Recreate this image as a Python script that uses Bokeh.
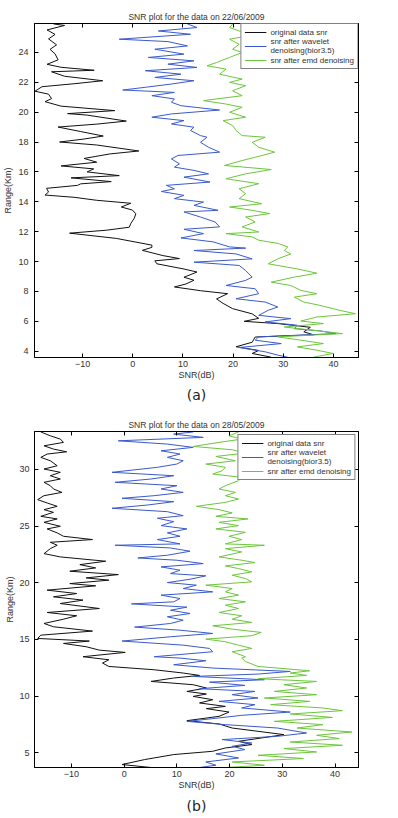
from bokeh.plotting import figure
from bokeh.models import Range1d, LinearAxis, FixedTicker, Legend, LegendItem, Title
from bokeh.layouts import column
from bokeh.embed import file_html
from bokeh.resources import INLINE

# ---------------- data: panel (a) 22/06/2009 ----------------
A_TITLE = "SNR plot for the data on 22/06/2009"
A_XTICKS = [-10, 0, 10, 20, 30, 40]
A_YTICKS = [4, 6, 8, 10, 12, 14, 16, 18, 20, 22, 24]

A_ORIG_R = [25.9, 25.8, 25.5, 25.2, 24.9, 24.5, 24.2, 23.9, 23.5, 23.2, 23.0, 22.8, 22.7,
            22.4, 22.1, 21.9, 21.7, 21.4, 21.2, 20.9, 20.7, 20.4, 20.1, 19.9, 19.8, 19.4,
            19.2, 19.0, 18.7, 18.4, 18.2, 18.0, 17.8, 17.4, 17.2, 16.9, 16.65, 16.4, 16.2,
            16.0, 15.75, 15.6, 15.35, 15.2, 15.1, 14.9, 14.65, 14.45, 14.3, 14.1, 13.9,
            13.65, 13.45, 13.2, 12.9, 12.55, 12.3, 12.1, 11.9, 11.55, 11.1, 10.95, 10.75,
            10.4, 10.2, 10.05, 9.85, 9.5, 9.3, 8.95, 8.75, 8.5, 8.3, 8.05, 7.85, 7.5, 7.2,
            6.85, 6.5, 6.2, 6.0, 5.85, 5.6, 5.3, 5.1, 4.95, 4.6, 4.3, 4.05, 3.85, 3.6]
A_ORIG_SNR = [-15.8, -13.6, -17.1, -15.5, -16.8, -15.2, -16.5, -15.5, -14.9, -17.1, -14.3,
              -7.7, -16.2, -13.6, -6.0, -11.7, -18.1, -19.5, -16.8, -16.2, -17.5, -14.3,
              -3.6, -13.0, -9.1, -1.3, -7.1, -14.9, -10.4, -5.9, -9.7, -14.6, -7.2, 1.2,
              -4.6, -9.7, -7.2, -14.3, -7.8, -9.1, -2.7, -12.3, -4.3, -10.4, -11.0, -17.2,
              -16.8, -17.5, -11.7, -7.2, -0.4, -2.3, -0.1, 0.6, 0.3, -0.4, -0.7, -5.2,
              -12.6, -3.3, 3.8, 3.8, 1.9, 6.0, 9.3, 4.4, 4.8, 10.2, 12.8, 10.2, 12.2, 10.6,
              8.3, 13.5, 18.9, 16.7, 18.0, 19.9, 23.8, 25.1, 22.2, 28.9, 35.4, 34.1, 36.0,
              24.4, 23.8, 20.6, 25.1, 23.8, 27.6]

A_WAV_R = [25.9, 25.66, 25.43, 25.21, 24.88, 24.72, 24.43, 24.21, 23.88, 23.66, 23.43,
           23.21, 22.99, 22.77, 22.54, 22.32, 22.1, 21.88, 21.66, 21.48, 21.32, 21.1,
           20.88, 20.66, 20.43, 20.14, 19.88, 19.66, 19.43, 19.21, 18.99, 18.77, 18.43,
           18.32, 17.98, 17.65, 17.32, 17.1, 16.87, 16.54, 16.32, 16.1, 15.87, 15.65,
           15.32, 15.1, 14.87, 14.69, 14.43, 14.21, 13.98, 13.76, 13.43, 13.32, 12.98,
           12.65, 12.32, 12.16, 11.87, 11.58, 11.32, 10.98, 10.9, 10.74, 10.51, 10.18,
           9.96, 9.74, 9.4, 8.96, 8.74, 8.4, 8.18, 7.85, 7.51, 7.29, 6.96, 6.74, 6.4,
           6.18, 5.96, 5.74, 5.51, 5.36, 5.18, 4.96, 4.74, 4.51, 4.25, 3.96, 3.74, 3.6]
A_WAV_SNR = [10.9, 12.8, 5.1, 11.5, -2.7, 7.0, 10.9, 4.4, 10.2, 3.1, 12.2, 7.0, 12.8, 2.5,
             9.6, 4.4, 12.2, 7.7, 2.5, -2.0, 8.3, 3.8, 8.3, 7.7, 9.6, 17.3, 7.7, 3.8, 10.2,
             7.7, 12.2, 11.5, 13.5, 14.8, 13.5, 15.1, 17.3, 9.0, 7.7, 9.3, 8.3, 12.2, 15.1,
             10.2, 15.4, 6.7, 8.3, 5.7, 10.2, 8.3, 14.1, 12.2, 17.0, 10.2, 13.5, 16.4,
             17.3, 10.2, 14.1, 9.6, 16.0, 19.3, 22.5, 12.2, 20.6, 23.8, 12.2, 21.2, 22.5,
             23.8, 22.5, 18.6, 24.4, 25.1, 20.6, 26.4, 28.9, 27.0, 25.1, 31.5, 26.4, 32.8,
             32.2, 37.3, 40.5, 25.1, 24.4, 29.6, 21.2, 26.4, 28.9, 30.9]

A_EMD_R = [25.9, 25.66, 25.43, 25.1, 24.88, 24.54, 24.21, 23.99, 23.66, 23.32, 23.1,
           22.88, 22.54, 22.21, 21.99, 21.77, 21.43, 21.1, 20.77, 20.54, 20.32, 19.99,
           19.66, 19.43, 19.1, 18.77, 18.43, 18.32, 17.98, 17.65, 17.32, 16.98, 16.76,
           16.43, 16.16, 15.87, 15.54, 15.21, 14.87, 14.54, 14.21, 13.87, 13.65, 13.43,
           13.21, 12.98, 12.65, 12.32, 11.98, 11.87, 11.65, 11.43, 11.21, 10.98, 10.74,
           10.51, 10.18, 9.85, 9.51, 9.22, 8.96, 8.62, 8.4, 8.07, 7.85, 7.62, 7.29, 7.07,
           6.74, 6.51, 6.29, 6.02, 5.85, 5.62, 5.45, 5.18, 4.96, 4.74, 4.51, 4.29, 4.07,
           3.85, 3.6]
A_EMD_SNR = [19.9, 19.3, 21.2, 23.0, 19.3, 21.2, 19.9, 21.8, 19.3, 16.7, 14.8, 18.6, 17.3,
             21.8, 19.3, 22.5, 19.9, 21.8, 14.1, 18.6, 21.8, 19.3, 22.5, 18.0, 19.9, 20.6,
             21.8, 26.4, 23.8, 25.1, 28.3, 24.4, 21.8, 18.3, 27.6, 22.5, 18.6, 25.1, 21.2,
             22.5, 21.2, 25.7, 19.3, 23.8, 27.3, 22.5, 24.4, 21.8, 25.1, 18.6, 23.8, 25.1,
             29.0, 30.9, 30.2, 31.5, 28.9, 27.0, 32.8, 36.7, 32.2, 27.6, 31.5, 33.5, 36.7,
             32.2, 34.1, 37.3, 41.2, 44.4, 36.7, 33.5, 38.0, 30.2, 34.7, 41.8, 28.9, 33.5,
             38.0, 32.8, 36.7, 39.9, 36.0]

# ---------------- data: panel (b) 28/05/2009 ----------------
B_TITLE = "SNR plot for the data on 28/05/2009"
B_XTICKS = [-10, 0, 10, 20, 30, 40]
B_YTICKS = [5, 10, 15, 20, 25, 30]

B_ORIG_R = [33.3, 32.96, 32.67, 32.38, 32.08, 31.79, 31.55, 31.35, 31.06, 30.76, 30.32,
            30.03, 29.74, 29.44, 29.15, 28.86, 28.56, 28.27, 27.97, 27.68, 27.33, 27.04,
            26.74, 26.45, 26.21, 25.86, 25.63, 25.33, 24.98, 24.75, 24.4, 24.1, 23.81,
            23.57, 23.31, 23.01, 22.57, 22.28, 21.9, 21.6, 21.31, 21.02, 20.72, 20.43,
            20.23, 19.93, 19.73, 19.35, 19.05, 18.76, 18.47, 18.17, 17.73, 17.38, 17.09,
            16.79, 16.41, 16.12, 15.74, 15.38, 15.09, 14.86, 14.65, 14.36, 14.06, 13.86,
            13.48, 13.21, 12.92, 12.62, 12.33, 12.04, 11.83, 11.6, 11.3, 11.01, 10.72,
            10.42, 10.19, 9.98, 9.69, 9.4, 9.1, 8.9, 8.6, 8.22, 7.84, 7.55, 7.19, 6.9,
            6.61, 6.31, 6.02, 5.73, 5.43, 5.14, 4.85, 4.41, 3.97, 3.71]
B_ORIG_SNR = [-15.8, -14, -12.1, -11.5, -15.2, -13.4, -10.9, -14.6, -15.8, -14, -12.7,
              -15.2, -12.1, -14, -12.1, -15.2, -14, -13.4, -11.8, -15.2, -16.4, -14.6,
              -12.7, -15.2, -13.4, -15.8, -12.7, -15.2, -12.1, -14.6, -12.7, -11.5, -6.0,
              -14, -12.7, -14, -15.2, -12.1, -3.5, -8.4, -5.4, -10.3, -1.1, -7.2, -2.9,
              -10.3, -5.4, -14.6, -9.0, -13.4, -7.8, -12.1, -4.7, -14.6, -9.0, -11.5,
              -15.2, -13.4, -6.0, -15.8, -16.4, -6.6, -11.5, -7.2, -4.7, 0.2, -7.8, -2.9,
              -4.1, -2.9, 5.7, 11.2, 14.3, 9.4, 5.1, 13.1, 15.6, 11.9, 15.6, 13.1, 16.8,
              14.3, 19.2, 15.6, 19.9, 18.0, 11.9, 18.0, 20.5, 25.4, 30.3, 26.0, 21.7, 24.2,
              19.2, 16.8, 9.4, 3.9, -0.4, 5.1]

B_WAV_R = [33.3, 33.11, 32.82, 32.52, 32.23, 31.94, 31.64, 31.35, 31.06, 30.76, 30.47,
           30.18, 29.74, 29.44, 29.15, 28.86, 28.56, 28.27, 27.97, 27.68, 27.45, 27.15,
           26.86, 26.57, 26.27, 25.92, 25.69, 25.39, 25.04, 24.75, 24.4, 24.1, 23.81,
           23.43, 23.31, 23.07, 22.78, 22.43, 22.19, 21.99, 21.69, 21.4, 21.11, 20.81,
           20.61, 20.31, 20.02, 19.79, 19.49, 19.2, 18.91, 18.61, 18.32, 18.14, 17.85,
           17.58, 17.29, 17.0, 16.7, 16.41, 16.09, 15.82, 15.53, 15.24, 14.86, 14.5,
           14.21, 13.92, 13.48, 13.36, 13.12, 12.77, 12.48, 12.18, 11.95, 11.74, 11.45,
           11.24, 10.95, 10.66, 10.42, 10.13, 9.84, 9.54, 9.25, 8.96, 8.6, 8.31, 8.02,
           7.78, 7.49, 7.19, 6.75, 6.46, 6.17, 5.87, 5.58, 5.29, 4.91, 4.55, 4.2, 3.91,
           3.71]
B_WAV_SNR = [13.1, 9.4, 15.0, -1.1, 8.2, 13.1, 7.0, 10.6, 8.2, 11.2, 10.0, 6.3, -2.3, 9.4,
             5.1, -1.7, 10.0, 7.0, 11.2, 5.7, -0.4, 9.4, 4.5, -2.3, 8.2, 11.2, 6.3, 9.4,
             7.0, 11.9, 8.2, 10.6, 6.3, 10.6, -1.7, 8.8, 12.5, 8.2, 2.6, 10.0, 15.0, 7.0,
             10.6, 8.8, 15.5, 12.5, 8.2, 13.7, 11.2, 16.8, 7.0, 10.6, 9.4, 1.4, 11.9, 8.8,
             12.5, 8.2, 11.2, 8.8, 2.0, 10.6, 16.8, 8.8, -0.4, 11.2, 16.2, 16.8, 5.7, 10.6,
             15.5, 9.4, 16.8, 31.5, 25.4, 13.1, 26.6, 16.2, 22.9, 14.3, 24.8, 20.5, 25.4,
             18.0, 24.8, 22.3, 31.5, 22.3, 16.8, 11.9, 19.2, 29.1, 34.6, 29.1, 18.6, 24.2,
             20.5, 22.9, 17.4, 21.7, 15.5, 17.4, 14.3]

B_EMD_R = [33.3, 32.96, 32.67, 32.38, 32.02, 31.73, 31.44, 31.14, 30.76, 30.47, 30.18,
           29.88, 29.59, 29.3, 29.0, 28.56, 28.27, 27.97, 27.68, 27.39, 27.09, 26.74,
           26.45, 26.16, 25.86, 25.63, 25.33, 25.04, 24.75, 24.45, 24.1, 23.81, 23.43,
           23.31, 23.01, 22.72, 22.28, 21.99, 21.78, 21.49, 21.25, 20.96, 20.67, 20.37,
           20.08, 19.79, 19.49, 19.2, 18.91, 18.61, 18.32, 18.02, 17.73, 17.38, 17.09,
           16.79, 16.5, 16.21, 15.91, 15.62, 15.33, 15.03, 14.8, 14.5, 14.21, 13.92,
           13.48, 13.36, 13.06, 12.62, 12.24, 12.04, 11.83, 11.54, 11.3, 11.01, 10.72,
           10.42, 10.13, 9.84, 9.54, 9.25, 8.96, 8.72, 8.43, 8.13, 7.78, 7.49, 7.19,
           6.84, 6.55, 6.26, 5.96, 5.67, 5.38, 5.08, 4.79, 4.5, 4.2, 3.91, 3.71]
B_EMD_SNR = [21.7, 19.9, 22.3, 18.0, 13.1, 20.5, 23.0, 17.4, 21.1, 15.5, 19.2, 18.6, 16.8,
             22.3, 21.7, 19.2, 18.0, 21.1, 19.2, 21.7, 19.2, 13.7, 18.0, 20.5, 17.4, 23.5,
             18.0, 21.7, 17.4, 23.0, 19.9, 22.3, 19.2, 26.6, 19.2, 22.3, 18.0, 22.3, 24.8,
             19.2, 21.7, 24.2, 20.5, 23.0, 24.2, 15.5, 20.5, 19.2, 21.7, 18.0, 23.0, 19.2,
             21.7, 18.0, 22.3, 20.5, 24.2, 16.8, 20.5, 26.0, 24.2, 15.5, 19.2, 21.7, 24.2,
             20.5, 23.0, 22.3, 23.0, 25.4, 35.2, 31.5, 34.6, 25.4, 36.5, 30.3, 34.6, 28.5,
             36.5, 26.6, 35.2, 27.8, 37.7, 41.4, 31.5, 39.5, 28.5, 37.7, 32.8, 43.2, 36.5,
             40.8, 31.5, 41.4, 30.3, 36.5, 25.4, 34.0, 20.5, 26.6, 19.2]

LEGEND_LABELS = ["original data snr", "snr after wavelet\ndenoising(bior3.5)",
                 "snr after emd denoising"]
COLORS = ["#111111", "#3a5acb", "#6cc63c"]
FONT = "Liberation Sans"
TXT = "#333333"


def make_panel(title, tag, xr, yr, xt, yt, series, sizes, stand, leg_margin):
    width, height, bl, br, bt, bb = sizes
    title_standoff, tag_standoff, ylab_standoff, ytick_standoff = stand
    p = figure(width=width, height=height, x_range=Range1d(*xr), y_range=Range1d(*yr),
               output_backend="svg", toolbar_location=None, title=title,
               min_border_left=bl, min_border_right=br, min_border_top=bt,
               min_border_bottom=bb)
    p.title.text_font = FONT
    p.title.text_font_size = "8.5px"
    p.title.text_font_style = "normal"
    p.title.text_color = TXT
    p.title.align = "center"
    p.title.standoff = title_standoff
    p.xgrid.visible = False
    p.ygrid.visible = False
    p.outline_line_color = "black"
    p.outline_line_width = 1
    p.background_fill_color = "white"
    p.border_fill_color = "white"
    for ax, ticks in ((p.xaxis[0], xt), (p.yaxis[0], yt)):
        ax.ticker = FixedTicker(ticks=ticks)
        ax.major_tick_in = 4
        ax.major_tick_out = 0
        ax.minor_tick_in = 0
        ax.minor_tick_out = 0
        ax.axis_line_color = "black"
        ax.major_tick_line_color = "black"
        ax.major_label_text_font = FONT
        ax.major_label_text_font_size = "9px"
        ax.major_label_text_color = TXT
        ax.axis_label_text_font = FONT
        ax.axis_label_text_font_size = "9px"
        ax.axis_label_text_font_style = "normal"
        ax.axis_label_text_color = TXT
    p.xaxis.major_label_standoff = 3
    p.xaxis.axis_label = "SNR(dB)"
    p.xaxis.axis_label_standoff = 0
    p.yaxis.major_label_standoff = ytick_standoff
    p.yaxis.axis_label = "Range(Km)"
    p.yaxis.axis_label_standoff = ylab_standoff
    for loc, ticks in (("above", xt), ("right", yt)):
        ax = LinearAxis(ticker=FixedTicker(ticks=ticks))
        ax.major_tick_in = 4
        ax.major_tick_out = 0
        ax.minor_tick_in = 0
        ax.minor_tick_out = 0
        ax.major_label_standoff = 0
        ax.major_label_overrides = {t: "" for t in ticks}
        ax.major_label_text_font_size = "1px"
        p.add_layout(ax, loc)

    items = []
    for (r, snr), col, lab in zip(series, COLORS, LEGEND_LABELS):
        n = min(len(r), len(snr))
        g = p.line(snr[:n], r[:n], line_color=col, line_width=1)
        items.append(LegendItem(label=lab, renderers=[g]))
    leg = Legend(items=items, location="top_right")
    leg.label_text_font = FONT
    leg.label_text_font_size = "8px"
    leg.label_text_color = TXT
    leg.glyph_width = 22
    leg.glyph_height = 10
    leg.label_height = 10
    leg.label_text_line_height = 1.2
    leg.spacing = 0
    leg.padding = 3
    leg.margin = leg_margin
    leg.label_standoff = 4
    leg.border_line_color = "black"
    leg.border_line_width = 1
    leg.background_fill_color = "white"
    leg.background_fill_alpha = 1
    p.add_layout(leg)

    p.add_layout(Title(text=tag, align="center", text_font="DejaVu Sans",
                       text_font_size="14px", text_font_style="normal",
                       text_color="#222222", standoff=tag_standoff), "below")
    return p


pa = make_panel(A_TITLE, "(a)", (-19.6, 45.0), (3.58, 25.93), A_XTICKS, A_YTICKS,
                [(A_ORIG_R, A_ORIG_SNR), (A_WAV_R, A_WAV_SNR), (A_EMD_R, A_EMD_SNR)],
                (398, 404, 30, 34, 23, 46), (4, 4, 2, 6), 0)
pb = make_panel(B_TITLE, "(b)", (-17.0, 44.45), (3.71, 33.34), B_XTICKS, B_YTICKS,
                [(B_ORIG_R, B_ORIG_SNR), (B_WAV_R, B_WAV_SNR), (B_EMD_R, B_EMD_SNR)],
                (398, 413, 26, 40, 27, 49), (4, 7, 1, 5), 3)

layout = column(pa, pb, spacing=0)
open("out.html", "w").write(file_html(layout, INLINE))
